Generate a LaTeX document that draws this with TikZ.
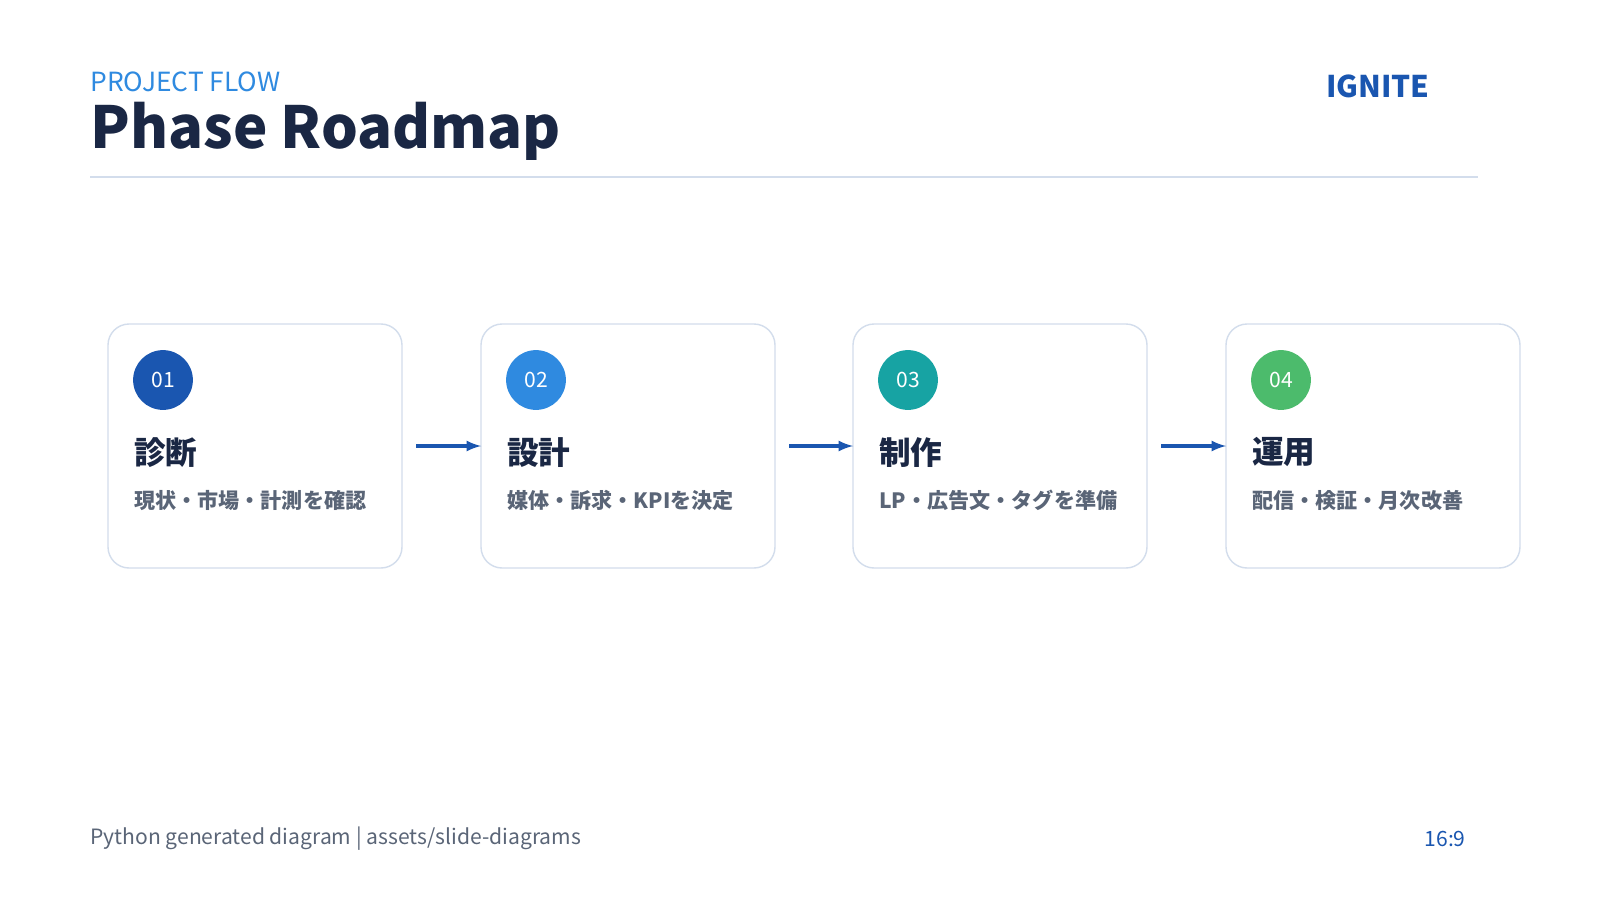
\documentclass[tikz,border=0pt]{standalone}
\usepackage{fontspec}
\setmainfont{Noto Sans CJK JP}
\newfontfamily\cjkbold[BoldFont={Noto Sans CJK JP Bold}]{Noto Sans CJK JP}
\usetikzlibrary{positioning}
\definecolor{navy}{HTML}{1A2744}
\definecolor{brand}{HTML}{1A56B0}
\definecolor{sky}{HTML}{2F8AE0}
\definecolor{teal}{HTML}{17A3A3}
\definecolor{leaf}{HTML}{4CBB6C}
\definecolor{edge}{HTML}{D3DDEC}
\definecolor{muted}{HTML}{5A6577}
\begin{document}
\begin{tikzpicture}[x=0.02cm,y=-0.02cm,
  card/.style={draw=edge,line width=0.8pt,rounded corners=12pt,fill=white},
  badge/.style={circle,minimum size=60*0.567pt,inner sep=0pt,text=white,font=\fontsize{12}{12}\selectfont},
  ptitle/.style={anchor=north west,inner sep=0pt,text=navy,font=\fontsize{18}{18}\selectfont\bfseries},
  pnote/.style={anchor=north west,inner sep=0pt,text=muted,align=left,text width=235*0.567pt,font=\fontsize{12}{17.5}\selectfont\bfseries},
  flow/.style={draw=brand,line width=1.8pt,-latex}]
\useasboundingbox (0,0) rectangle (1600,900);
\fill[white] (0,0) rectangle (1600,900);

% header
\node[anchor=west,inner sep=0pt,text=sky,font=\fontsize{15}{15}\selectfont] (kicker) at (90,82) {PROJECT FLOW};
\node[anchor=west,inner sep=0pt,text=navy,font=\fontsize{33}{33}\selectfont\bfseries] (title) at (90,131) {Phase Roadmap};
\node[anchor=east,inner sep=0pt,text=brand,font=\fontsize{17}{17}\selectfont\bfseries] (logo) at (1430,86) {IGNITE};
\draw[edge,line width=1.5pt] (90,177) -- (1478,177);

% phases
\def\cw{294}
\foreach \i/\x/\c/\name/\note in {
  1/108/brand/診断/現状・市場・計測を確認,
  2/481/sky/設計/媒体・訴求・KPIを決定,
  3/853/teal/制作/LP・広告文・タグを準備,
  4/1226/leaf/運用/配信・検証・月次改善}{
  \draw[card] (\x,324) rectangle (\x+\cw,568);
  \node[badge,fill=\c] (b\i) at (\x+55,380) {0\i};
  \node[ptitle] (t\i) at (\x+26,437) {\name};
  \node[pnote] (n\i) at (\x+26,490) {\note};
  \coordinate (L\i) at (\x,446);
  \coordinate (R\i) at (\x+\cw+14,446);
}
\draw[flow] (R1) -- (L2);
\draw[flow] (R2) -- (L3);
\draw[flow] (R3) -- (L4);

% footer
\node[anchor=west,inner sep=0pt,text=muted,font=\fontsize{12}{12}\selectfont] (foot) at (90,839) {Python generated diagram | assets/slide-diagrams};
\node[anchor=east,inner sep=0pt,text=brand,font=\fontsize{12}{12}\selectfont] (ratio) at (1466,839) {16:9};
\end{tikzpicture}
\end{document}
